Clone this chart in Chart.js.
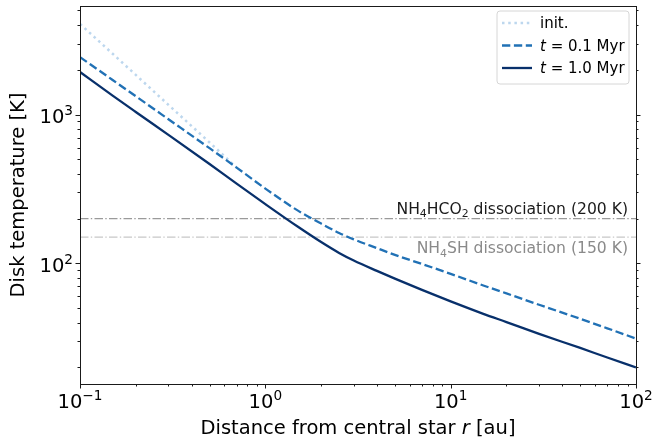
<!DOCTYPE html>
<html>
<head>
<meta charset="utf-8">
<title>Disk temperature profile</title>
<script src="https://cdn.jsdelivr.net/npm/chart.js@4.4.1/dist/chart.umd.min.js"></script>
<style>
  html, body { margin: 0; padding: 0; background: #fff; }
  canvas { display: block; }
</style>
</head>
<body>
<canvas id="disk-chart" width="652" height="441"></canvas>
<script>
// ======= DATA =======
const radius = [0.1, 0.15, 0.2, 0.3, 0.5, 0.7, 1, 1.5, 2, 2.5, 3, 4, 5, 7, 10, 15, 20, 30, 50, 70, 100];
const tempInit = [4060, 2560, 1845, 1161, 649, 440];
const tempEarly = [2430, 1706, 1327, 930, 594, 440, 318, 226, 185, 160, 145, 126.5, 114, 99, 85, 71, 62.8, 52.7, 42.4, 36.6, 31.2];
const tempLate = [1930, 1340, 1040, 730, 465, 343, 250, 176, 139, 117.5, 104.5, 89, 79, 66.3, 55.5, 45.8, 40.3, 33.6, 27, 23.3, 20];
const seriesLabels = ['init.', '$t$ = 0.1 Myr', '$t$ = 1.0 Myr'];

const dissocTemps = [200, 150];
const dissocLabels = ['NH_4HCO_2 dissociation (200 K)', 'NH_4SH dissociation (150 K)'];

const xTickExponents = [-1, 0, 1, 2];
const yTickExponents = [2, 3];
const xTitle = 'Distance from central star $r$ [au]';
const yTitle = 'Disk temperature [K]';

const FONT = "'DejaVu Sans', sans-serif";

const toPoints = (vals) => vals.map((v, i) => ({ x: radius[i], y: v }));
const flatLine = (t) => [{ x: 0.1, y: t }, { x: 100, y: t }];

// ======= RICH TEXT (italic $..$, _sub, ^{sup}) =======
function richParts(str) {
  const parts = [];
  let italic = false, buf = '', i = 0;
  const flush = () => { if (buf) parts.push({ t: buf, italic, shift: 0 }); buf = ''; };
  while (i < str.length) {
    const c = str[i];
    if (c === '$') { flush(); italic = !italic; i++; }
    else if (c === '_' || c === '^') {
      flush();
      let txt;
      if (str[i + 1] === '{') { const j = str.indexOf('}', i); txt = str.slice(i + 2, j); i = j + 1; }
      else { txt = str[i + 1]; i += 2; }
      parts.push({ t: txt, italic: false, shift: c === '^' ? 1 : -1 });
    } else { buf += c; i++; }
  }
  flush();
  return parts;
}

function drawRich(ctx, str, x, y, size, color, align) {
  const parts = richParts(str);
  const fontFor = (p) => (p.italic ? 'italic ' : '') + (p.shift ? size * 0.7 : size) + 'px ' + FONT;
  let w = 0;
  parts.forEach(p => { ctx.font = fontFor(p); w += ctx.measureText(p.t).width; });
  let cx = align === 'right' ? x - w : align === 'center' ? x - w / 2 : x;
  ctx.fillStyle = color;
  ctx.textBaseline = 'alphabetic';
  ctx.textAlign = 'left';
  parts.forEach(p => {
    ctx.font = fontFor(p);
    const dy = p.shift > 0 ? -0.4 * size : p.shift < 0 ? 0.22 * size : 0;
    ctx.fillText(p.t, cx, y + dy);
    cx += ctx.measureText(p.t).width;
  });
}

// ======= FRAME, TICKS, LABELS, LEGEND =======
const decorPlugin = {
  id: 'decor',
  afterDatasetsDraw(chart) {
    const { ctx, chartArea: a, scales: { x, y } } = chart;
    ctx.save();

    // dissociation labels
    drawRich(ctx, dissocLabels[0], a.right - 8, y.getPixelForValue(dissocTemps[0]) - 5, 15.6, '#1a1a1a', 'right');
    drawRich(ctx, dissocLabels[1], a.right - 8, y.getPixelForValue(dissocTemps[1]) + 16, 15.6, '#8a8a8a', 'right');

    // spines
    ctx.strokeStyle = '#1a1a1a';
    ctx.lineWidth = 1;
    ctx.strokeRect(Math.round(a.left) + 0.5, Math.round(a.top) + 0.5, Math.round(a.right - a.left), Math.round(a.bottom - a.top));

    // tick marks
    ctx.beginPath();
    for (let e = -1; e <= 2; e++) {
      for (let m = 1; m <= 9; m++) {
        const v = m * Math.pow(10, e);
        if (v < x.min - 1e-9 || v > x.max + 1e-9) continue;
        const px = Math.round(x.getPixelForValue(v)) + 0.5;
        const len = m === 1 ? 4.5 : 2.5;
        ctx.moveTo(px, a.bottom);
        ctx.lineTo(px, a.bottom + len);
      }
    }
    for (let e = 1; e <= 3; e++) {
      for (let m = 1; m <= 9; m++) {
        const v = m * Math.pow(10, e);
        if (v < y.min || v > y.max) continue;
        const py = Math.round(y.getPixelForValue(v)) + 0.5;
        const len = m === 1 ? 4.5 : 2.5;
        ctx.moveTo(a.left, py);
        ctx.lineTo(a.left - len, py);
        ctx.moveTo(a.right, py);
        ctx.lineTo(a.right + len, py);
      }
    }
    ctx.stroke();

    // tick labels
    xTickExponents.forEach(e => {
      const px = x.getPixelForValue(Math.pow(10, e));
      const sup = e < 0 ? '\u2212' + Math.abs(e) : String(e);
      drawRich(ctx, '10^{' + sup + '}', px, a.bottom + 24, 19.5, '#000', 'center');
    });
    yTickExponents.forEach(e => {
      const py = y.getPixelForValue(Math.pow(10, e));
      drawRich(ctx, '10^{' + e + '}', a.left - 7, py + 8.5, 19.5, '#000', 'right');
    });

    // axis titles
    drawRich(ctx, xTitle, (a.left + a.right) / 2, 434, 19.5, '#000', 'center');
    ctx.save();
    ctx.translate(24, (a.top + a.bottom) / 2);
    ctx.rotate(-Math.PI / 2);
    drawRich(ctx, yTitle, 0, 0, 19.5, '#000', 'center');
    ctx.restore();

    // legend box
    const lx = 497, ly = 11, lw = 132, lh = 73, r = 3;
    ctx.beginPath();
    ctx.moveTo(lx + r, ly);
    ctx.arcTo(lx + lw, ly, lx + lw, ly + lh, r);
    ctx.arcTo(lx + lw, ly + lh, lx, ly + lh, r);
    ctx.arcTo(lx, ly + lh, lx, ly, r);
    ctx.arcTo(lx, ly, lx + lw, ly, r);
    ctx.closePath();
    ctx.fillStyle = 'rgba(255,255,255,0.8)';
    ctx.fill();
    ctx.strokeStyle = '#d6d6d6';
    ctx.lineWidth = 1;
    ctx.stroke();

    // legend entries, in the order of seriesLabels
    const rows = [23, 45.5, 68];
    seriesLabels.forEach((lbl, i) => {
      const d = chart.data.datasets.find(ds => ds.label === lbl);
      const cy = rows[i];
      ctx.beginPath();
      ctx.setLineDash(d.borderDash || []);
      ctx.lineCap = 'butt';
      ctx.strokeStyle = d.borderColor;
      ctx.lineWidth = d.borderWidth;
      ctx.moveTo(502, cy);
      ctx.lineTo(532, cy);
      ctx.stroke();
      ctx.setLineDash([]);
      drawRich(ctx, lbl, 540, cy + 5, 15, '#000', 'left');
    });

    ctx.restore();
  }
};

// ======= CHART =======
const ctx = document.getElementById('disk-chart').getContext('2d');

new Chart(ctx, {
  type: 'line',
  data: {
    datasets: [
      {
        label: seriesLabels[2], order: 1,
        data: toPoints(tempLate),
        borderColor: '#08306b', borderWidth: 2.3
      },
      {
        label: seriesLabels[1], order: 2,
        data: toPoints(tempEarly),
        borderColor: '#2171b5', borderWidth: 2.3, borderDash: [8.3, 3.6]
      },
      {
        label: seriesLabels[0], order: 3,
        data: toPoints(tempInit),
        borderColor: '#bdd7ee', borderWidth: 2.5, borderDash: [2.5, 3.7]
      },
      {
        label: 'NH4HCO2', order: 4,
        data: flatLine(dissocTemps[0]),
        borderColor: '#9a9a9a', borderWidth: 1.3, borderDash: [8.5, 2.3, 1.4, 2.3]
      },
      {
        label: 'NH4SH', order: 5,
        data: flatLine(dissocTemps[1]),
        borderColor: '#c8c8c8', borderWidth: 1.3, borderDash: [8.5, 2.3, 1.4, 2.3]
      }
    ]
  },
  options: {
    responsive: false,
    animation: false,
    devicePixelRatio: 1,
    layout: { padding: { top: 6, right: 16, left: 0, bottom: 0 } },
    elements: {
      point: { radius: 0 },
      line: { cubicInterpolationMode: 'monotone', borderCapStyle: 'butt', fill: false }
    },
    plugins: {
      legend: { display: false },
      tooltip: { enabled: false }
    },
    scales: {
      x: {
        type: 'logarithmic', min: 0.1, max: 100,
        grid: { display: false }, border: { display: false },
        ticks: { display: false },
        afterFit: (s) => { s.height = 57; }
      },
      y: {
        type: 'logarithmic', min: 15.46, max: 5360,
        grid: { display: false }, border: { display: false },
        ticks: { display: false },
        afterFit: (s) => { s.width = 80; }
      }
    }
  },
  plugins: [decorPlugin]
});
</script>
</body>
</html>
